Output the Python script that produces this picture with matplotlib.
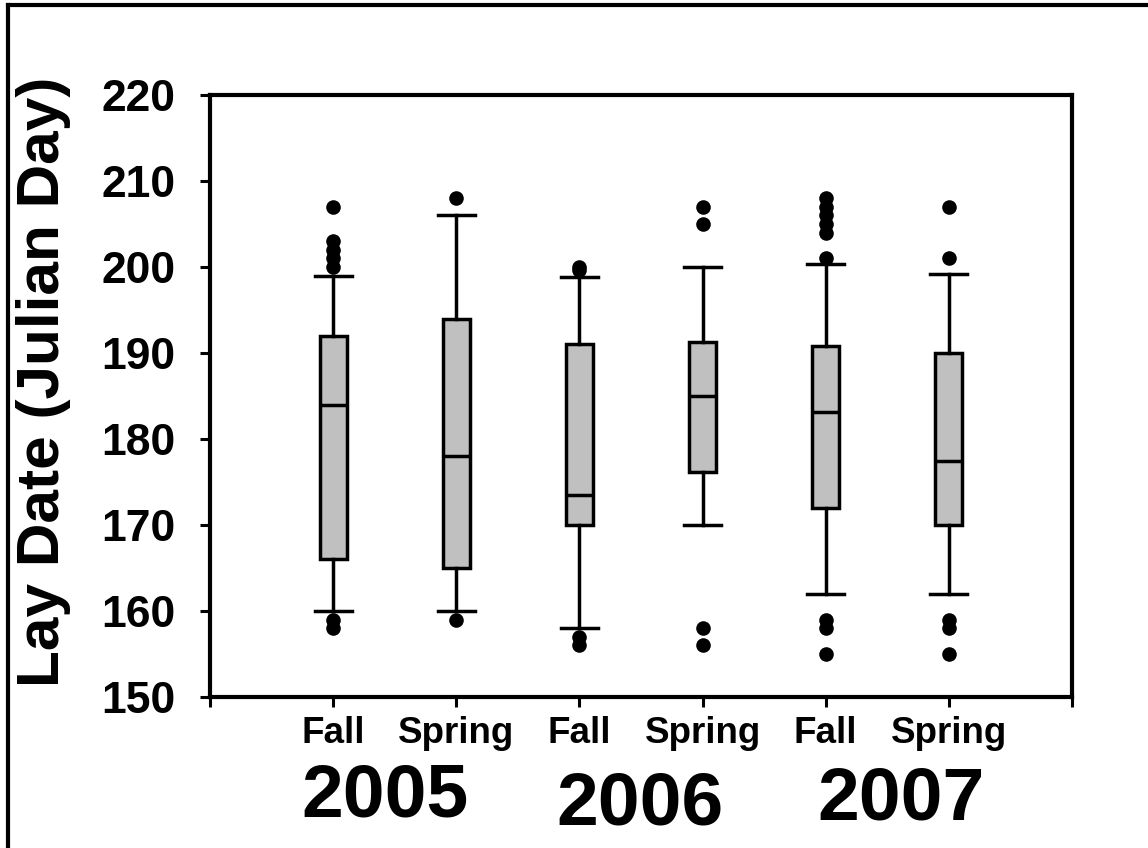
import matplotlib
matplotlib.use("Agg")
import matplotlib.pyplot as plt
from matplotlib.lines import Line2D

plt.rcParams['font.family'] = ['Liberation Sans', 'DejaVu Sans']
plt.rcParams['font.weight'] = 'bold'

# ---- data ----
categories = ["Fall", "Spring", "Fall", "Spring", "Fall", "Spring"]
years = ["2005", "2006", "2007"]
q1 = [166, 165, 170, 176.2, 172, 170]
median = [184, 178, 173.5, 185, 183.1, 177.5]
q3 = [192, 194, 191, 191.3, 190.8, 190]
whisker_low = [160, 160, 158, 170, 162, 162]
whisker_high = [199, 206, 198.8, 200, 200.4, 199.2]
outliers = [
    [207, 203, 202, 201, 200, 159, 158],
    [208, 159],
    [200, 199.6, 157, 156],
    [207, 205, 158, 156],
    [208, 207, 206, 205, 204, 201, 159, 158, 155],
    [207, 201, 159, 158, 155],
]
y_ticks = [150, 160, 170, 180, 190, 200, 210, 220]

stats = []
for i in range(len(categories)):
    stats.append(dict(med=median[i], q1=q1[i], q3=q3[i],
                      whislo=whisker_low[i], whishi=whisker_high[i],
                      fliers=outliers[i], label=categories[i]))

W, H = 1148, 848
fig = plt.figure(figsize=(W / 100, H / 100), dpi=100)
ax = fig.add_axes([210 / W, 1 - 697 / H, (1072 - 210) / W, (697 - 95) / H])

positions = list(range(1, len(categories) + 1))
lw = 2.5
ax.bxp(stats, positions=positions, widths=0.22, patch_artist=True,
       capwidths=0.3,
       boxprops=dict(facecolor='#c0c0c0', edgecolor='black', linewidth=lw),
       medianprops=dict(color='black', linewidth=lw),
       whiskerprops=dict(color='black', linewidth=lw),
       capprops=dict(color='black', linewidth=lw),
       flierprops=dict(marker='o', markerfacecolor='black',
                       markeredgecolor='black', markersize=10.5,
                       markeredgewidth=0))

ax.set_xlim(0, 7)
ax.set_ylim(150, 220)
ax.set_yticks(y_ticks)
ax.set_yticklabels([str(v) for v in y_ticks], fontsize=32, fontweight='bold')
ax.set_xticks(range(0, 8))
ax.set_xticklabels([""] + categories + [""], fontsize=26.5, fontweight='bold')
ax.tick_params(axis='y', direction='out', length=7, width=2.2, pad=18)
ax.tick_params(axis='x', direction='out', length=7, width=2.2, pad=7)
for s in ax.spines.values():
    s.set_linewidth(3)

fig.text(44 / W, 1 - 382 / H, "Lay Date (Julian Day)", rotation=90,
         ha='center', va='center', fontsize=43.5, fontweight='bold')

year_x = [385, 640, 901]
year_y = [797, 805, 800]
for yr, xp, yp in zip(years, year_x, year_y):
    fig.text(xp / W, 1 - yp / H, yr, ha='center', va='center',
             fontsize=54, fontweight='bold')

# outer frame (left and top edges visible)
fig.add_artist(Line2D([8 / W, 8 / W], [0, 1 - 5 / H], transform=fig.transFigure,
                      color='black', linewidth=3))
fig.add_artist(Line2D([8 / W, 1], [1 - 5 / H, 1 - 5 / H], transform=fig.transFigure,
                      color='black', linewidth=3))

fig.savefig("out.png", dpi=100)
